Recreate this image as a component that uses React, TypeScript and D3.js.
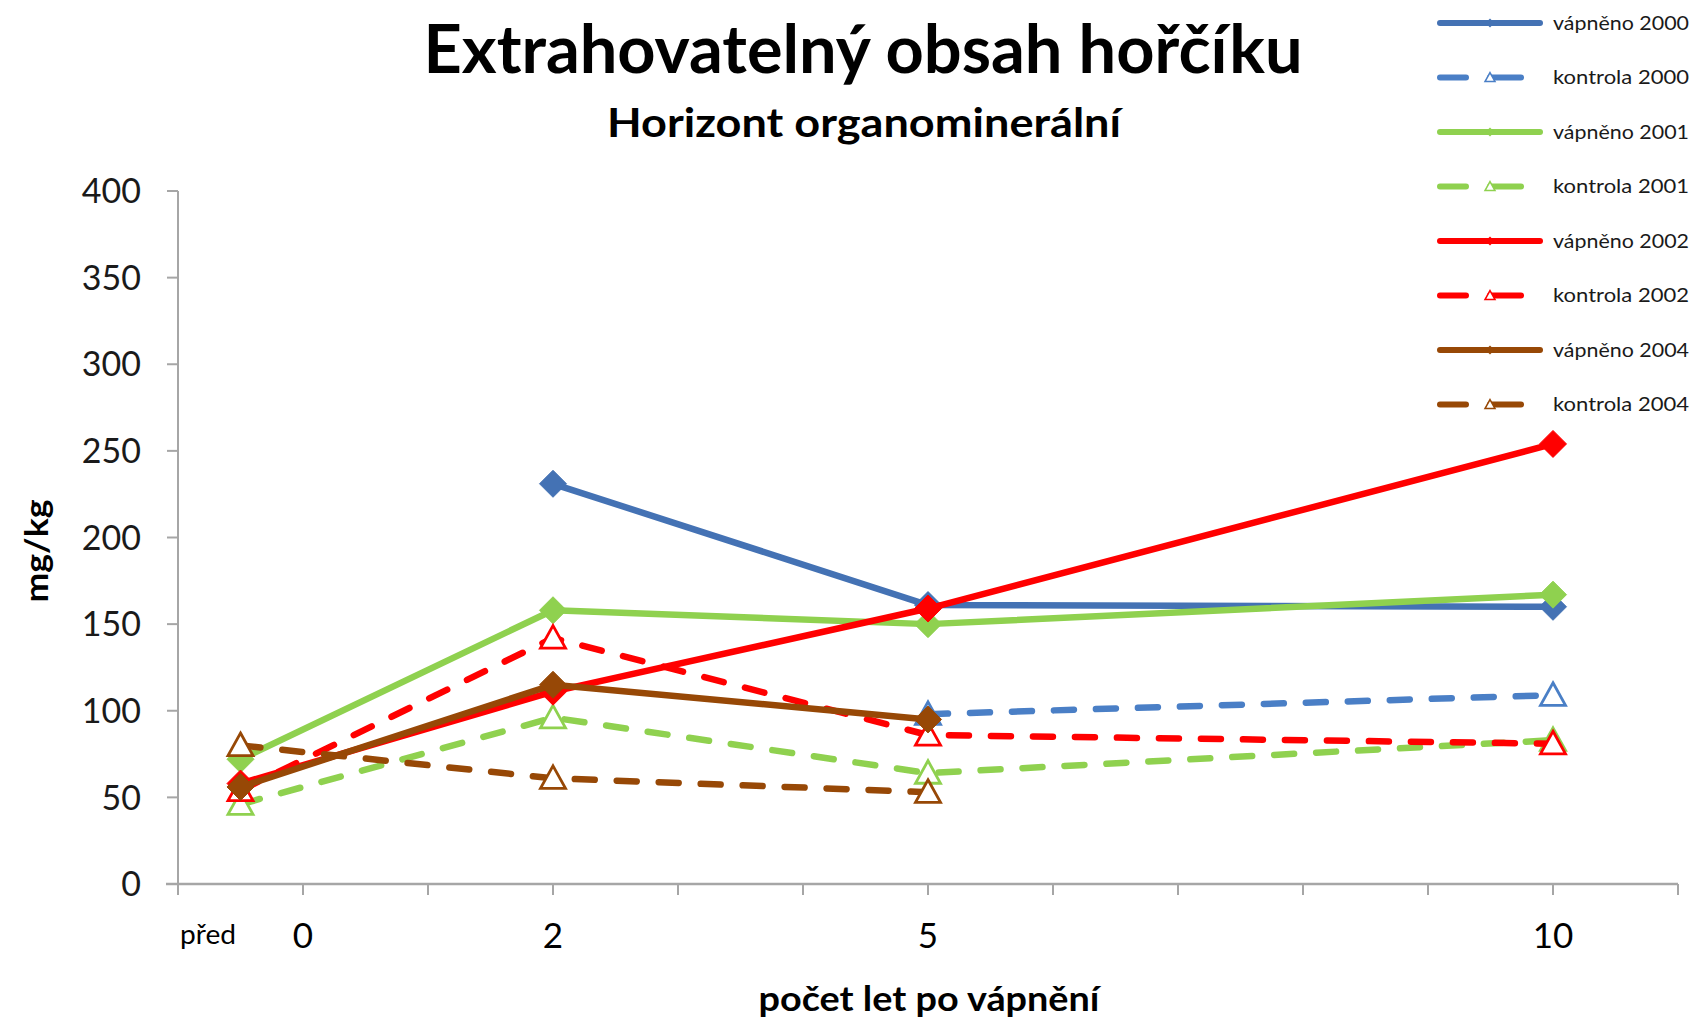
import React from "react";
import * as d3 from "d3";

const W = 1695;
const H = 1019;

const categories = ["před", "2", "5", "10"];
const categoryX = [-0.5, 2, 5, 10];
const xTickLabels = ["0", "2", "5", "10"];
const xTickLabelValues = [0, 2, 5, 10];
const yTicks = [0, 50, 100, 150, 200, 250, 300, 350, 400];

const seriesNames = [
  "vápněno 2000",
  "kontrola 2000",
  "vápněno 2001",
  "kontrola 2001",
  "vápněno 2002",
  "kontrola 2002",
  "vápněno 2004",
  "kontrola 2004",
];

const v2000 = [null, 231, 161, 160];
const k2000 = [null, null, 98, 109];
const v2001 = [72, 158, 150, 167];
const k2001 = [46, 96, 64, 83];
const v2002 = [58, 111, 159, 254];
const k2002 = [54, 142, 86, 81];
const v2004 = [56, 115, 95, null];
const k2004 = [80, 61, 53, null];

const seriesValues = [v2000, k2000, v2001, k2001, v2002, k2002, v2004, k2004];
const seriesColors = ["#4472b4", "#4a7fc6", "#8fd14f", "#8fd14f", "#ff0000", "#ff0000", "#974806", "#974806"];
const seriesDashed = [false, true, false, true, false, true, false, true];

const FONT = "Lato, 'Open Sans', sans-serif";

export default function App() {
  const x = d3.scaleLinear().domain([-1, 11]).range([178, 1678]);
  const y = d3.scaleLinear().domain([0, 400]).range([884, 191]);
  const axisColor = "#a6a6a6";
  const xMinorTicks = d3.range(-1, 12, 1);

  const line = d3
    .line<[number, number | null]>()
    .defined((d) => d[1] !== null)
    .x((d) => x(d[0]))
    .y((d) => y(d[1] as number));

  const diamond = (cx: number, cy: number, r: number) =>
    `M${cx},${cy - r}L${cx + r},${cy}L${cx},${cy + r}L${cx - r},${cy}Z`;
  const triangle = (cx: number, cy: number, s: number) => {
    const h = s * 0.9;
    return `M${cx},${cy - h * 0.55}L${cx + s / 2},${cy + h * 0.45}L${cx - s / 2},${cy + h * 0.45}Z`;
  };

  const legendX0 = 1437;
  const legendY0 = 23;
  const legendStep = 54.5;

  return (
    <svg
      width={W}
      height={H}
      style={{ position: "absolute", left: 0, top: 0, background: "#fff" }}
      fontFamily={FONT}
    >
      <rect x={0} y={0} width={W} height={H} fill="#fff" />
      {/* Titles */}
      <text x={863} y={73} textAnchor="middle" fontSize={66} fontWeight={700} textLength={879} lengthAdjust="spacingAndGlyphs" fill="#000">
        Extrahovatelný obsah hořčíku
      </text>
      <text x={864} y={137} textAnchor="middle" fontSize={40} fontWeight={700} textLength={514} lengthAdjust="spacingAndGlyphs" fill="#000">
        Horizont organominerální
      </text>

      {/* Y axis */}
      <line x1={x(-1)} x2={x(-1)} y1={y(400)} y2={y(0) + 8} stroke={axisColor} strokeWidth={2} />
      {yTicks.map((t) => (
        <g key={t}>
          <line x1={x(-1) - 11} x2={x(-1)} y1={y(t)} y2={y(t)} stroke={axisColor} strokeWidth={2} />
          <text x={141} y={y(t)} dy="0.36em" textAnchor="end" fontSize={34} fill="#1a1a1a">
            {t}
          </text>
        </g>
      ))}
      <text
        transform={`translate(48,${551}) rotate(-90)`}
        textAnchor="middle"
        fontSize={32}
        fontWeight={700}
        textLength={103}
        lengthAdjust="spacingAndGlyphs"
        fill="#000"
      >
        mg/kg
      </text>

      {/* X axis */}
      <line x1={x(-1) - 12} x2={x(11)} y1={y(0)} y2={y(0)} stroke={axisColor} strokeWidth={2.5} />
      {xMinorTicks.map((t) => (
        <line key={t} x1={x(t)} x2={x(t)} y1={y(0)} y2={y(0) + 11} stroke={axisColor} strokeWidth={2} />
      ))}
      <text x={180} y={944} fontSize={26} fill="#000" textLength={56} lengthAdjust="spacingAndGlyphs">
        {categories[0]}
      </text>
      {xTickLabels.map((l, i) => (
        <text key={l} x={x(xTickLabelValues[i])} y={948} textAnchor="middle" fontSize={35} fill="#000">
          {l}
        </text>
      ))}
      <text x={929} y={1011} textAnchor="middle" fontSize={34} fontWeight={700} textLength={341} lengthAdjust="spacingAndGlyphs" fill="#000">
        počet let po vápnění
      </text>

      {/* Series */}
      {seriesValues.map((vals, si) => {
        const pts: [number, number | null][] = vals.map((v, i) => [categoryX[i], v]);
        const c = seriesColors[si];
        const dashed = seriesDashed[si];
        return (
          <g key={si}>
            <path
              d={line(pts) || ""}
              fill="none"
              stroke={c}
              strokeWidth={6.5}
              strokeLinecap="round"
              strokeLinejoin="round"
              strokeDasharray={dashed ? "20 22" : undefined}
            />
            {pts
              .filter((p) => p[1] !== null)
              .map((p, i) =>
                dashed ? (
                  <path key={i} d={triangle(x(p[0]), y(p[1] as number), 25)} fill="#fff" stroke={c} strokeWidth={2.8} />
                ) : (
                  <path key={i} d={diamond(x(p[0]), y(p[1] as number), 13.5)} fill={c} stroke={c} strokeWidth={1} />
                )
              )}
          </g>
        );
      })}

      {/* Legend */}
      {seriesNames.map((name, i) => {
        const ly = legendY0 + i * legendStep;
        const c = seriesColors[i];
        const dashed = seriesDashed[i];
        return (
          <g key={name}>
            {dashed ? (
              <>
                <line x1={legendX0 + 3} x2={legendX0 + 29} y1={ly} y2={ly} stroke={c} strokeWidth={6} strokeLinecap="round" />
                <line x1={legendX0 + 53} x2={legendX0 + 84} y1={ly} y2={ly} stroke={c} strokeWidth={6} strokeLinecap="round" />
                <path d={triangle(legendX0 + 53, ly, 10)} fill="#fff" stroke={c} strokeWidth={1.5} />
              </>
            ) : (
              <>
                <line x1={legendX0 + 3} x2={legendX0 + 103} y1={ly} y2={ly} stroke={c} strokeWidth={6} strokeLinecap="round" />
                <path d={diamond(legendX0 + 53, ly, 4.5)} fill={c} />
              </>
            )}
            <text x={1553} y={ly} dy="0.35em" fontSize={19} fill="#1a1a1a" textLength={136} lengthAdjust="spacingAndGlyphs">
              {name}
            </text>
          </g>
        );
      })}
    </svg>
  );
}
